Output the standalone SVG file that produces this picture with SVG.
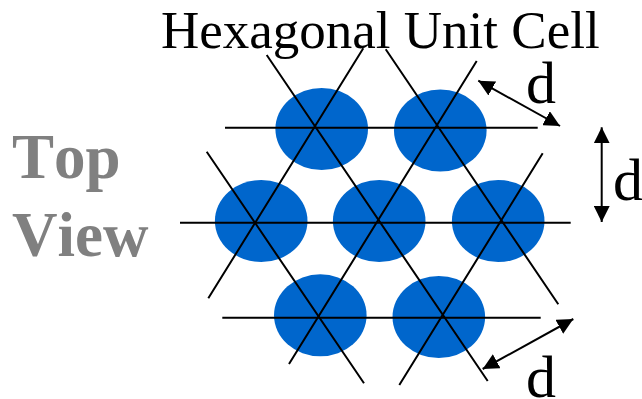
<svg xmlns="http://www.w3.org/2000/svg" width="642" height="399" viewBox="0 0 642 399">
<style>
text{font-kerning:none}
.t{font-family:"Liberation Serif","Times New Roman",serif;fill:#000}
.d{font-size:60px}
.g{font-family:"Liberation Serif","Times New Roman",serif;font-weight:bold;font-size:63px;fill:#808080}
.c{fill:#0066cc}
.l{stroke:#000;stroke-width:2;fill:none}
.a{stroke:#000;stroke-width:2;fill:none;marker-start:url(#h);marker-end:url(#h)}
</style>
<defs>
<marker id="h" viewBox="0 0 16 16" refX="16" refY="8" markerUnits="userSpaceOnUse" markerWidth="16" markerHeight="16" orient="auto-start-reverse"><path d="M0 0L16 8L0 16Z" fill="#000"/></marker>
</defs>
<rect width="642" height="399" fill="#fff"/>
<g id="atoms">
<ellipse id="atom-1" class="c" cx="321.7" cy="129" rx="46.3" ry="41"/>
<ellipse id="atom-2" class="c" cx="440.3" cy="130.5" rx="46.3" ry="41"/>
<ellipse id="atom-3" class="c" cx="261.2" cy="221" rx="46.3" ry="41"/>
<ellipse id="atom-4" class="c" cx="379.2" cy="221" rx="46.3" ry="41"/>
<ellipse id="atom-5" class="c" cx="498.2" cy="221" rx="46.3" ry="41"/>
<ellipse id="atom-6" class="c" cx="320.3" cy="315.3" rx="46.3" ry="41"/>
<ellipse id="atom-7" class="c" cx="438.8" cy="317" rx="46.3" ry="41"/>
</g>
<g id="connectors">
<path class="l" d="M225 127.7H537.7M180 222.7H570.7M222.3 317.7H540.7"/>
<path class="l" d="M266.7 55L487.7 381M385.7 49.3L558.3 304.3M206.7 151.7L364 383.3"/>
<path class="l" d="M363.3 48.3L208.3 298.3M476.7 61L289 364M542.7 153.3L399.3 385"/>
<path class="a" d="M478.3 80.7L560 126"/>
<path class="a" d="M601.7 127.3V222"/>
<path class="a" d="M573.3 319L482.7 369"/>
</g>
<g id="labels">
<text class="t" x="161" y="48" font-size="53">Hexagonal Unit Cell</text>
<text class="t d" x="526" y="103">d</text>
<text class="t d" x="613" y="200">d</text>
<text class="t d" x="526" y="397">d</text>
<text class="g" x="12" y="178">Top</text>
<text class="g" x="12" y="256">View</text>
</g>
</svg>
